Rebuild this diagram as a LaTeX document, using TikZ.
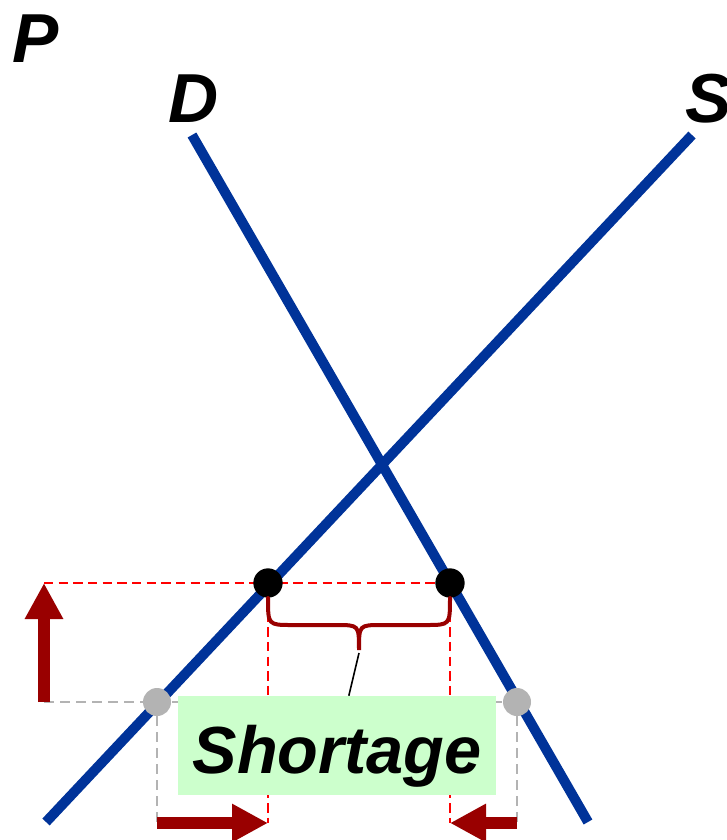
\documentclass[tikz,border=0pt]{standalone}
\usepackage{fontspec}
\setmainfont{Liberation Sans}
\usepackage{tikz}
\usetikzlibrary{positioning}
\usetikzlibrary{backgrounds}
\usetikzlibrary{calc}
\usetikzlibrary{arrows.meta}

\definecolor{curveblue}{HTML}{003399}
\definecolor{movered}{HTML}{990000}
\definecolor{guidered}{HTML}{FF0000}
\definecolor{guidegray}{HTML}{B3B3B3}
\definecolor{labelgreen}{HTML}{CCFFCC}

\tikzset{
	market/.style={curveblue, line width=7.5pt},
	eqdot/.style={circle, fill=black, inner sep=0pt, minimum size=22pt},
	olddot/.style={circle, fill=guidegray, inner sep=0pt, minimum size=21pt},
	redguide/.style={guidered, line width=1.8pt, dash pattern=on 7pt off 4pt},
	grayguide/.style={guidegray, line width=2.2pt, dash pattern=on 7.5pt off 4.5pt},
	pricemove/.style={movered, line width=9pt, -{Triangle[length=27pt,width=27pt]}},
	biglabel/.style={font=\fontsize{52}{60}\selectfont\bfseries\itshape, inner sep=0pt},
}

\begin{document}
\begin{tikzpicture}[x=0.75pt, y=-0.75pt]
		\useasboundingbox (0,0) rectangle (727,840);

		\coordinate (d1) at (192,135);
		\coordinate (d2) at (588,822);
		\coordinate (s1) at (46,822);
		\coordinate (s2) at (692,135);

		\node[eqdot] at (268,583) (qs) {};
		\node[eqdot] at (450,583) (qd) {};
		\node[olddot] at (157,702) (ps) {};
		\node[olddot] at (517,702) (pd) {};

		\coordinate (pn) at (44,583);
		\coordinate (po) at (44,702);
		\coordinate (qsb) at (268,823);
		\coordinate (qdb) at (450,823);
		\coordinate (psb) at (157,823);
		\coordinate (pdb) at (517,823);
		\coordinate (tip) at (359,653);

		\node[biglabel, anchor=base west] at (12,62) (plabel) {P};
		\node[biglabel, anchor=base west] at (168,122) (dlabel) {D};
		\node[biglabel, anchor=base west] at (685,122) (slabel) {S};

		\node[biglabel, font=\fontsize{50}{60}\selectfont\bfseries\itshape, anchor=base,
			fill=labelgreen, minimum width=238.5pt,
			text height=57.75pt, text depth=16.5pt] at (337,773) (short) {Shortage};

		\begin{scope}[on background layer]
			\draw[redguide] (pn) to (qd);
			\draw[redguide] (qs) to (qsb);
			\draw[redguide] (qd) to (qdb);
			\draw[grayguide] (po) to (pd);
			\draw[grayguide] (ps) to (psb);
			\draw[grayguide] (pd) to (pdb);
			\draw[market] (d1) to (d2);
			\draw[market] (s1) to (s2);
		\end{scope}

		% shortage brace
		\draw[movered, line width=3pt, line cap=round]
			(268,598) .. controls (268,625) .. (292,625) -- (336,625)
			.. controls (359,625) .. (359,650)
			.. controls (359,625) .. (382,625) -- (426,625)
			.. controls (450,625) .. (450,598);
		\draw[black, line width=1.2pt] (tip) to (short);

		\draw[pricemove] (po) to (pn);
		\draw[pricemove] (psb) to (qsb);
		\draw[pricemove] (pdb) to (qdb);
	\end{tikzpicture}
\end{document}
